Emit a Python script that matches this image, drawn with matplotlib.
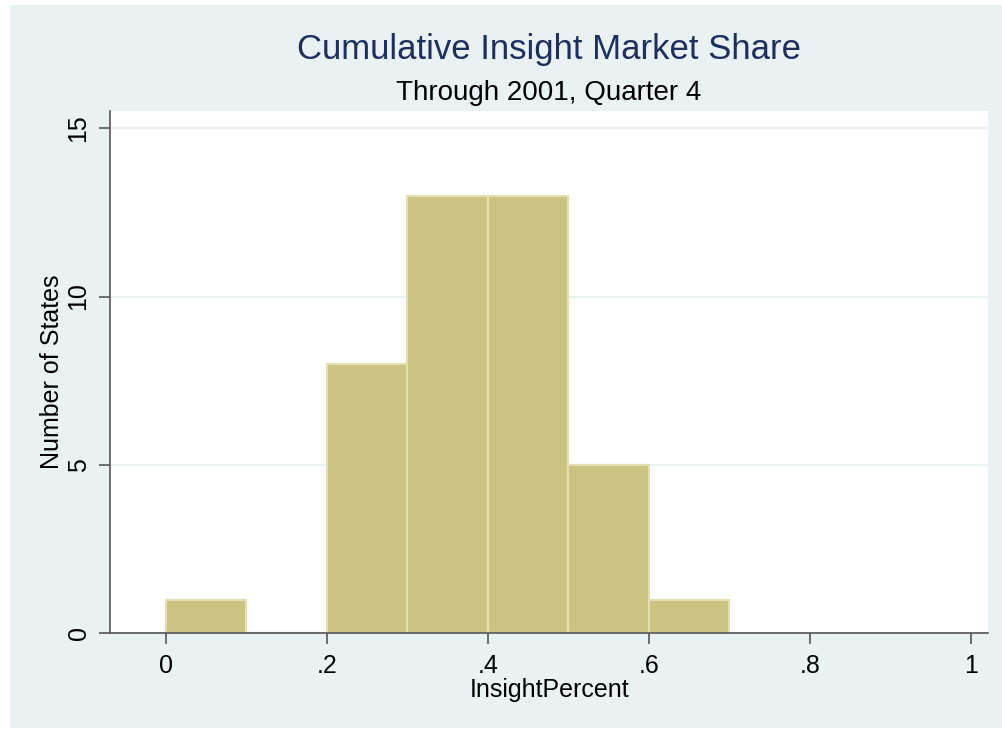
import matplotlib
matplotlib.use("Agg")
import matplotlib.pyplot as plt
from matplotlib.patches import Rectangle
import numpy as np

plt.rcParams['font.family'] = ['Liberation Sans', 'DejaVu Sans']

# Data
bin_edges = [0.0, 0.1, 0.2, 0.3, 0.4, 0.5, 0.6, 0.7]
counts = [1, 0, 8, 13, 13, 5, 1]
x_ticks = [0, 0.2, 0.4, 0.6, 0.8, 1.0]
x_tick_labels = ["0", ".2", ".4", ".6", ".8", "1"]
y_ticks = [0, 5, 10, 15]
y_tick_labels = ["0", "5", "10", "15"]
title = "Cumulative Insight Market Share"
subtitle = "Through 2001, Quarter 4"
xlabel = "InsightPercent"
ylabel = "Number of States"

BG = "#EAF1F3"
BAR = "#CBC381"
BAR_EDGE = "#E4DFB0"
TITLE_C = "#1E2F5E"
SPINE = "#555555"

W, H = 1002, 729
fig = plt.figure(figsize=(W / 100, H / 100), dpi=100, facecolor="white")
fig.patches.append(Rectangle((10 / W, 1 / H), 1 - 10 / W, 1 - 6 / H,
                             transform=fig.transFigure, facecolor=BG,
                             edgecolor="none", zorder=-10))

left, right = 110 / W, 988.3 / W
bottom, top = (H - 633.3) / H, (H - 111) / H
ax = fig.add_axes([left, bottom, right - left, top - bottom])
ax.set_facecolor("white")

widths = np.diff(bin_edges)
ax.bar(bin_edges[:-1], counts, width=widths, align="edge", color=BAR,
       edgecolor=BAR_EDGE, linewidth=1.5, zorder=2)

ax.set_xlim(-0.0695, 1.0218)
ax.set_ylim(0, 15.51)

ax.set_xticks(x_ticks)
ax.set_xticklabels(x_tick_labels)
ax.set_yticks(y_ticks)
ax.set_yticklabels(y_tick_labels, rotation=90, va="center")

ax.grid(axis="y", color=BG, linewidth=1.6, zorder=1)
ax.set_axisbelow(True)

for s in ["top", "right"]:
    ax.spines[s].set_visible(False)
for s in ["left", "bottom"]:
    ax.spines[s].set_color(SPINE)
    ax.spines[s].set_linewidth(1.2)

ax.tick_params(axis="both", direction="out", length=8, width=1.2,
               color=SPINE, labelsize=18, labelcolor="black")
ax.tick_params(axis="x", pad=7)
ax.tick_params(axis="y", pad=6)

ax.set_xlabel(xlabel, fontsize=18, labelpad=0)
ax.set_ylabel(ylabel, fontsize=18, labelpad=2)

cx = (left + right) / 2
fig.text(cx, 1 - 50 / H, title, ha="center", va="center", fontsize=25,
         color=TITLE_C)
fig.text(cx, 1 - 93 / H, subtitle, ha="center", va="center", fontsize=20,
         color="black")

fig.savefig("out.png", dpi=100, facecolor="white")
